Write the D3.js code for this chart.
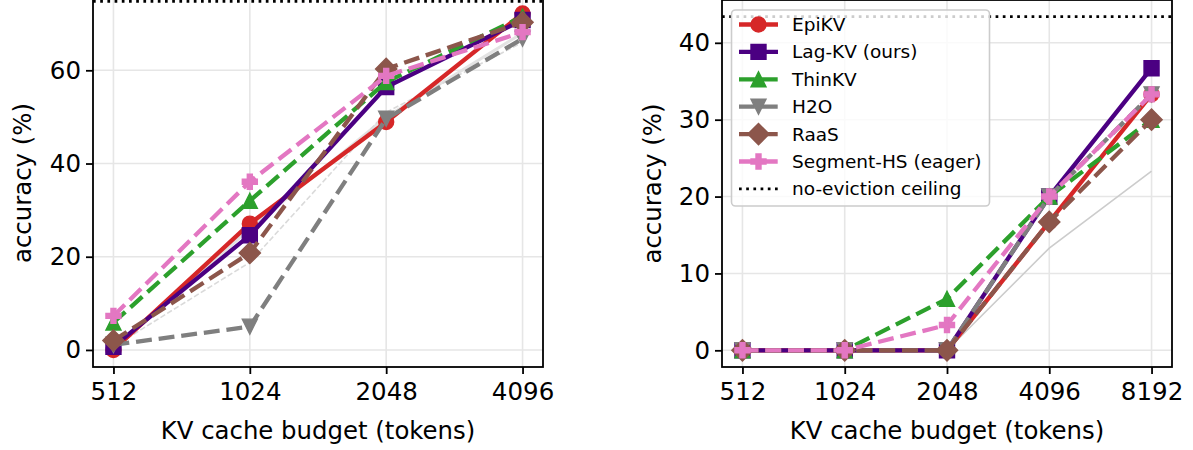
<!DOCTYPE html>
<html>
<head>
<meta charset="utf-8">
<script src="https://cdn.jsdelivr.net/npm/d3@7"></script>
<style>
  body { margin: 0; background: #fff; }
  svg { display: block; font-family: "DejaVu Sans", sans-serif; }
</style>
</head>
<body>
<svg id="chart" width="1193" height="450"></svg>
<script>
// budgets (x) for each panel
const budgetsLeft = [512, 1024, 2048, 4096];
const budgetsRight = [512, 1024, 2048, 4096, 8192];

// left panel accuracy (%)
const epiLeft = [0, 27.1, 48.9, 72.2];
const lagLeft = [0.7, 24.6, 56.4, 70.8];
const thinLeft = [5.9, 32.0, 57.5, 71.5];
const h2oLeft = [1.1, 5.0, 49.6, 66.8];
const raasLeft = [2.0, 20.8, 60.3, 70.3];
const segLeft = [7.3, 36.1, 58.8, 68.2];
const faintSolidLeft = [0, 26, 50, 68];
const faintDashLeft = [0.7, 18.8, 51, 66];
const ceilingLeft = 74.8;

// right panel accuracy (%)
const epiRight = [0, 0, 0, 16.7, 33.3];
const lagRight = [0, 0, 0, 20.0, 36.7];
const thinRight = [0, 0, 6.7, 20.0, 30.0];
const h2oRight = [0, 0, 0, 20.0, 33.3];
const raasRight = [0, 0, 0, 16.7, 30.0];
const segRight = [0, 0, 3.3, 20.0, 33.3];
const faintSolidRight = [0, 0, 0, 13.3, 23.3];
const ceilingRight = 43.4;

const yTicksLeft = [0, 20, 40, 60];
const yTicksRight = [0, 10, 20, 30, 40];

const names = ["EpiKV", "Lag-KV (ours)", "ThinKV", "H2O", "RaaS", "Segment-HS (eager)"];
const colors = ["#d62728", "#4b0082", "#2ca02c", "#7f7f7f", "#8c564b", "#e377c2"];
const dashed = [false, false, true, true, true, true];
const shapes = ["circle", "square", "tri-up", "tri-down", "diamond", "plus"];

const svg = d3.select("#chart");
const LW = 4.3, MS = 15;
const dashArr = `${3.7 * LW},${1.6 * LW}`;

// marker path centred on 0,0 (matplotlib-like sizes)
function markerPath(shape) {
  const h = MS / 2;
  if (shape === "circle") return d3.symbol(d3.symbolCircle, Math.PI * h * h)();
  if (shape === "square") return `M${-h},${-h}H${h}V${h}H${-h}Z`;
  if (shape === "tri-up") return `M0,${-h}L${h},${h}L${-h},${h}Z`;
  if (shape === "tri-down") return `M0,${h}L${h},${-h}L${-h},${-h}Z`;
  if (shape === "diamond") { const d = h * Math.SQRT2; return `M0,${-d}L${d},0L0,${d}L${-d},0Z`; }
  const a = MS / 6;
  return `M${-a},${-h}H${a}V${-a}H${h}V${a}H${a}V${h}H${-a}V${a}H${-h}V${-a}H${-a}Z`;
}

function panel({ left, right, top, bottom, xs, yDomain, yTicks, series, faint, ceiling, legend, ylabelX }) {
  const span = Math.log2(xs[xs.length - 1] / xs[0]);
  const x = d3.scaleLog().base(2)
    .domain([xs[0] * Math.pow(2, -0.05 * span), xs[xs.length - 1] * Math.pow(2, 0.05 * span)])
    .range([left, right]);
  const y = d3.scaleLinear().domain(yDomain).range([bottom, top]);

  const g = svg.append("g");
  const clipId = "clip" + left;
  g.append("clipPath").attr("id", clipId).append("rect")
    .attr("x", left).attr("y", top).attr("width", right - left).attr("height", bottom - top);

  // grid
  g.append("g").selectAll("line").data(xs).join("line")
    .attr("x1", d => x(d)).attr("x2", d => x(d)).attr("y1", top).attr("y2", bottom)
    .attr("stroke", "#e6e6e6").attr("stroke-width", 1.6);
  g.append("g").selectAll("line").data(yTicks).join("line")
    .attr("x1", left).attr("x2", right).attr("y1", d => y(d)).attr("y2", d => y(d))
    .attr("stroke", "#e6e6e6").attr("stroke-width", 1.6);

  const plot = g.append("g").attr("clip-path", `url(#${clipId})`);
  const line = d3.line().x((d, i) => x(xs[i])).y(d => y(d));

  // faint reference lines behind the main series
  faint.forEach(f => {
    plot.append("path").attr("d", line(f.values)).attr("fill", "none")
      .attr("stroke", f.color).attr("stroke-width", f.width)
      .attr("stroke-dasharray", f.dash || null);
  });

  series.forEach((vals, k) => {
    plot.append("path").attr("d", line(vals)).attr("fill", "none")
      .attr("stroke", colors[k]).attr("stroke-width", LW)
      .attr("stroke-dasharray", dashed[k] ? dashArr : null);
    plot.append("g").selectAll("path").data(vals).join("path")
      .attr("transform", (d, i) => `translate(${x(xs[i])},${y(d)})`)
      .attr("d", markerPath(shapes[k]))
      .attr("fill", colors[k]).attr("stroke", colors[k]).attr("stroke-width", 1.4);
  });

  // ceiling
  plot.append("line").attr("x1", left).attr("x2", right)
    .attr("y1", y(ceiling)).attr("y2", y(ceiling))
    .attr("stroke", "#000").attr("stroke-width", 2.7)
    .attr("stroke-dasharray", "2.7,4.5");

  // frame
  g.append("rect").attr("x", left).attr("y", top).attr("width", right - left).attr("height", bottom - top)
    .attr("fill", "none").attr("stroke", "#000").attr("stroke-width", 1.8);

  const xAxis = g.append("g").attr("transform", `translate(0,${bottom})`)
    .call(d3.axisBottom(x).tickValues(xs).tickFormat(d3.format("d")).tickSize(7).tickPadding(9));
  const yAxis = g.append("g").attr("transform", `translate(${left},0)`)
    .call(d3.axisLeft(y).tickValues(yTicks).tickSize(7).tickPadding(5));
  [xAxis, yAxis].forEach(a => {
    a.select(".domain").remove();
    a.selectAll(".tick line").attr("stroke", "#000").attr("stroke-width", 1.8);
    a.selectAll("text").attr("font-size", 24.5).attr("fill", "#000")
      .attr("font-family", "DejaVu Sans");
  });

  g.append("text").attr("x", (left + right) / 2).attr("y", 439)
    .attr("text-anchor", "middle").attr("font-size", 24.4).text("KV cache budget (tokens)");
  g.append("text").attr("transform", `translate(${ylabelX},${(top + bottom) / 2}) rotate(-90)`)
    .attr("text-anchor", "middle").attr("dy", "0.35em").attr("font-size", 24.4).text("accuracy (%)");

  if (legend) {
    const lx = 731.5, ly = 10, lw = 258, lh = 196, step = 27.4;
    const lg = g.append("g");
    lg.append("rect").attr("x", lx).attr("y", ly).attr("width", lw).attr("height", lh)
      .attr("rx", 4).attr("fill", "rgba(255,255,255,0.8)").attr("stroke", "#cccccc").attr("stroke-width", 1.6);
    names.forEach((n, k) => {
      const cy = ly + 14.5 + k * step;
      lg.append("line").attr("x1", 739).attr("x2", 778).attr("y1", cy).attr("y2", cy)
        .attr("stroke", colors[k]).attr("stroke-width", LW)
        .attr("stroke-dasharray", dashed[k] ? dashArr : null);
      lg.append("path").attr("transform", `translate(758.5,${cy})`).attr("d", markerPath(shapes[k]))
        .attr("fill", colors[k]).attr("stroke", colors[k]).attr("stroke-width", 1.4);
      lg.append("text").attr("x", 792).attr("y", cy).attr("dy", "0.35em")
        .attr("font-size", 18.5).text(n);
    });
    const cy = ly + 14.5 + 6 * step;
    lg.append("line").attr("x1", 739).attr("x2", 778).attr("y1", cy).attr("y2", cy)
      .attr("stroke", "#000").attr("stroke-width", 2.7).attr("stroke-dasharray", "2.7,4.5");
    lg.append("text").attr("x", 792).attr("y", cy).attr("dy", "0.35em")
      .attr("font-size", 18.5).text("no-eviction ceiling");
  }
}

panel({
  left: 93, right: 543, top: -1, bottom: 367,
  xs: budgetsLeft, yDomain: [-3.66, 75.3], yTicks: yTicksLeft,
  series: [epiLeft, lagLeft, thinLeft, h2oLeft, raasLeft, segLeft],
  faint: [
    { values: faintSolidLeft, color: "#e3e3e3", width: 3 },
    { values: faintDashLeft, color: "#dadada", width: 1.6, dash: "5.5,2.4" }
  ],
  ceiling: ceilingLeft, legend: false, ylabelX: 22
});

panel({
  left: 722, right: 1172, top: 0, bottom: 367,
  xs: budgetsRight, yDomain: [-2.17, 45.57], yTicks: yTicksRight,
  series: [epiRight, lagRight, thinRight, h2oRight, raasRight, segRight],
  faint: [{ values: faintSolidRight, color: "#cccccc", width: 1.6 }],
  ceiling: ceilingRight, legend: true, ylabelX: 652
});
</script>
</body>
</html>
